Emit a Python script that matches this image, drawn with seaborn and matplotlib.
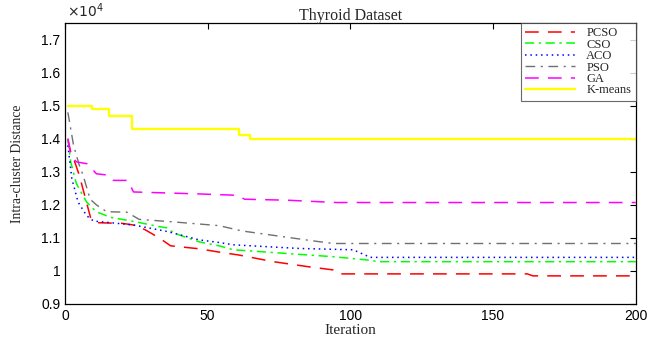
import matplotlib
matplotlib.use("Agg")
import matplotlib.pyplot as plt
from matplotlib.ticker import FuncFormatter, MultipleLocator
import seaborn as sns

# values (iteration, intra-cluster distance)
pcso_iter = [1, 2, 3, 5, 7, 9, 11, 15, 20, 24, 28, 33, 37, 47, 54, 61, 73, 85, 94, 96, 162, 164, 200]
pcso_val = [14000, 13600, 13400, 12900, 12250, 11600, 11460, 11450, 11440, 11390, 11250, 11000,
            10760, 10670, 10570, 10480, 10280, 10130, 10030, 9910, 9910, 9850, 9850]

cso_iter = [1, 2, 4, 7.6, 11, 16, 24, 33, 36, 38, 47, 54, 59, 79, 94, 106, 110, 200]
cso_val = [14000, 13300, 12640, 12080, 11790, 11620, 11500, 11340, 11300, 11150, 10880, 10760,
           10640, 10520, 10430, 10330, 10280, 10280]

aco_iter = [1, 2.4, 4.6, 7.6, 10, 16, 24, 36, 47, 54, 59, 82, 101, 107, 200]
aco_val = [13800, 12790, 12080, 11670, 11510, 11460, 11390, 11190, 10940, 10860, 10790, 10680,
           10640, 10410, 10410]

pso_iter = [1, 3, 5, 6.4, 8.8, 11, 14.6, 21.6, 26, 35.6, 47, 54, 62, 86, 94, 200]
pso_val = [14800, 13800, 13200, 12880, 12170, 12000, 11790, 11780, 11560, 11500, 11420, 11370,
           11210, 10920, 10830, 10830]

ga_iter = [1, 2, 4, 8, 11, 15, 17, 22, 24, 47, 60, 63, 78, 95, 200]
ga_val = [14000, 13500, 13300, 13240, 12940, 12900, 12740, 12740, 12390, 12330, 12290, 12170,
          12140, 12070, 12070]

km_iter = [1, 9.5, 15.5, 23.5, 61, 65, 200]
km_val = [15000, 14900, 14700, 14300, 14100, 14000, 14000]

sns.set_style("white")
plt.rcParams["font.family"] = ["Liberation Sans", "DejaVu Sans"]
plt.rcParams["xtick.direction"] = "in"
plt.rcParams["ytick.direction"] = "in"

serif = ["Liberation Serif", "DejaVu Serif"]

fig = plt.figure(figsize=(6.5, 3.4), dpi=100)
ax = fig.add_axes([0.1, 0.106, 0.878, 0.826])

sns.lineplot(x=pcso_iter, y=pcso_val, ax=ax, color="#ff0000", lw=1.1, dashes=(9, 6), label="PCSO")
sns.lineplot(x=cso_iter, y=cso_val, ax=ax, color="#00ff00", lw=1.1, dashes=(6, 3, 1.5, 3), label="CSO")
sns.lineplot(x=aco_iter, y=aco_val, ax=ax, color="#0000ff", lw=1.1, dashes=(1, 2.5), label="ACO")
sns.lineplot(x=pso_iter, y=pso_val, ax=ax, color="#707070", lw=1.0, dashes=(7, 4, 1.5, 4), label="PSO")
sns.lineplot(x=ga_iter, y=ga_val, ax=ax, color="#ff00ff", lw=1.1, dashes=(9, 6), label="GA")
sns.lineplot(x=km_iter, y=km_val, ax=ax, color="#ffff00", lw=1.7, drawstyle="steps-post",
             label="K-means")

ax.set_xlim(0, 200)
ax.set_ylim(9000, 17500)
ax.xaxis.set_major_locator(MultipleLocator(50))
ax.yaxis.set_major_locator(MultipleLocator(1000))
ax.yaxis.set_major_formatter(FuncFormatter(lambda v, p: f"{v / 1e4:g}"))
ax.tick_params(top=True, right=True, length=4, width=0.8, labelsize=10, colors="black")
for s in ax.spines.values():
    s.set_color("black")
    s.set_linewidth(0.9)

ax.text(0.003, 1.01, r"$\times10^4$", transform=ax.transAxes, fontsize=10, ha="left", va="bottom")
ax.set_title("Thyroid Dataset", fontsize=11.5, family=serif, pad=2)
ax.set_xlabel("Iteration", fontsize=11, family=serif, labelpad=1)
ax.set_ylabel("Intra-cluster Distance", fontsize=9.8, family=serif, labelpad=12)

leg = ax.legend(loc="upper right", borderaxespad=0, fancybox=False, handlelength=4.0,
                handletextpad=0.9, labelspacing=-0.05, borderpad=0.35,
                prop={"family": serif, "size": 9})
leg.get_frame().set_edgecolor("#444444")
leg.get_frame().set_linewidth(0.8)

fig.savefig("out.png", dpi=100)
